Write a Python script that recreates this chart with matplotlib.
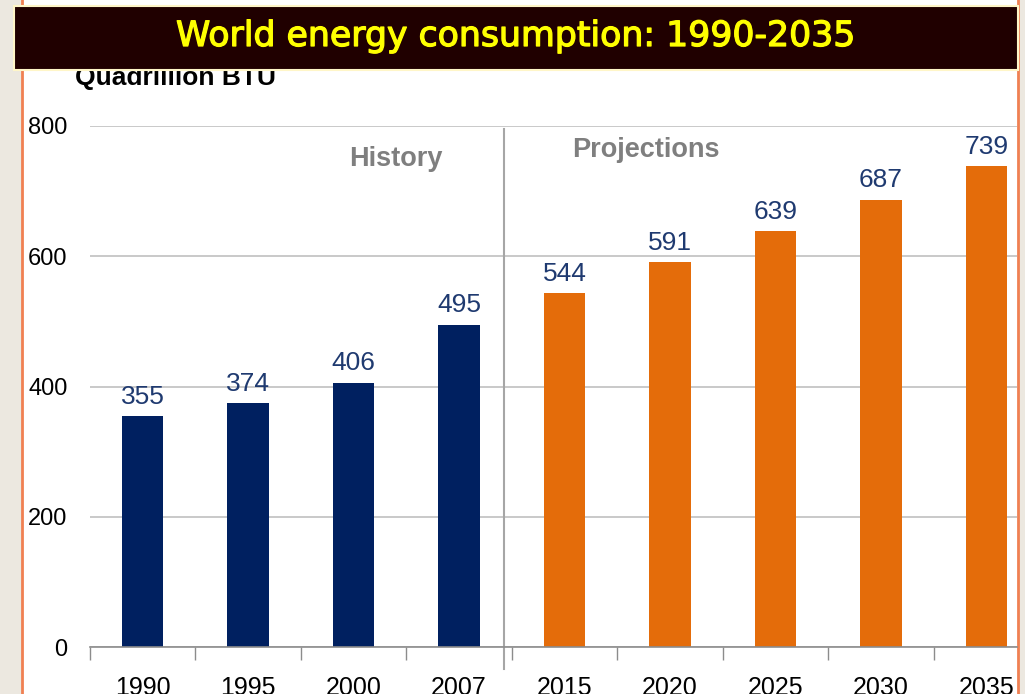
import matplotlib
matplotlib.use('Agg')
from matplotlib import pyplot as plt
from matplotlib.patches import Rectangle
import matplotlib.patheffects as pe
import numpy as np

years = ['1990', '1995', '2000', '2007', '2015', '2020', '2025', '2030', '2035']
consumption = [355, 374, 406, 495, 544, 591, 639, 687, 739]
n_history = 4
yticks = [0, 200, 400, 600, 800]

navy = '#002060'
orange = '#E46C0A'
label_blue = '#1F3A70'

plt.rcParams['font.family'] = ['Liberation Sans', 'DejaVu Sans']

W, H = 1025, 694
fig = plt.figure(figsize=(W / 100, H / 100), dpi=100)
fig.patch.set_facecolor('#ECE8E0')

# white slide panel with thin orange edges
fig.patches.append(Rectangle((22 / W, 0), (1018 - 22) / W, 1, transform=fig.transFigure,
                             facecolor='white', edgecolor='none', zorder=-2))
for xp in (22, 1018):
    fig.add_artist(plt.Line2D([xp / W, xp / W], [0, 1], transform=fig.transFigure,
                              color='#F08052', lw=2, zorder=-1))

x0, x1 = 89.7, 1017
y0, y1 = 647, 126
ax = fig.add_axes([x0 / W, (H - y0) / H, (x1 - x0) / W, (y0 - y1) / H])
ax.set_facecolor('none')

x = np.arange(len(years))
colors = [navy] * n_history + [orange] * (len(years) - n_history)
ax.bar(x, consumption, width=0.39, color=colors, zorder=3)
for xi, v in zip(x, consumption):
    ax.text(xi, v + 11, str(v), ha='center', va='bottom', fontsize=19,
            color=label_blue, zorder=4)

ax.set_yticks(yticks)
ax.set_yticklabels([str(t) for t in yticks], fontsize=17)
ax.tick_params(axis='y', length=0, pad=16)
ax.set_xticks(x)
ax.set_xticklabels(years, fontsize=18)
ax.set_xticks(np.arange(-0.5, len(years), 1), minor=True)
ax.tick_params(axis='x', which='major', length=0, pad=21)
ax.tick_params(axis='x', which='minor', length=9, color='#8C8C8C', width=1)
# categories are 105.5 px apart; the last one runs past the panel edge
step = 105.5
ax.set_xlim(-0.5, -0.5 + (x1 - x0) / step)
ax.set_ylim(0, 800)
ax.grid(axis='y', color='#C0C0C0', lw=1.2, zorder=0)
for s in ('top', 'right', 'left'):
    ax.spines[s].set_visible(False)
ax.spines['bottom'].set_color('#8C8C8C')
ax.spines['bottom'].set_linewidth(1.2)
ax.spines['bottom'].set_zorder(5)

# split between history and projections
ax.plot([3.43, 3.43], [-34, 795], color='#A6A6A6', lw=1.5, clip_on=False, zorder=2)
ax.text(2.40, 750, 'History', ha='center', va='center', fontsize=19.5,
        fontweight='bold', color='#7F7F7F')
ax.text(4.77, 763, 'Projections', ha='center', va='center', fontsize=19.5,
        fontweight='bold', color='#7F7F7F')

fig.text(75 / W, (H - 85) / H, 'Quadrillion BTU', ha='left', va='baseline',
         fontsize=19, fontweight='bold', color='black', zorder=1)

# title banner
fig.patches.append(Rectangle((14 / W, (H - 70) / H), 1004 / W, 64 / H,
                             transform=fig.transFigure, facecolor='#200000',
                             edgecolor='#FFF6C8', lw=1.5, zorder=10))
fig.text(516 / W, (H - 36) / H, 'World energy consumption: 1990-2035', ha='center',
         va='center', fontsize=25, color='#FFFF00', family='DejaVu Sans', zorder=11,
         path_effects=[pe.withStroke(linewidth=0.9, foreground='#FFFF00')])

fig.savefig('out.png', dpi=100, facecolor=fig.get_facecolor())
